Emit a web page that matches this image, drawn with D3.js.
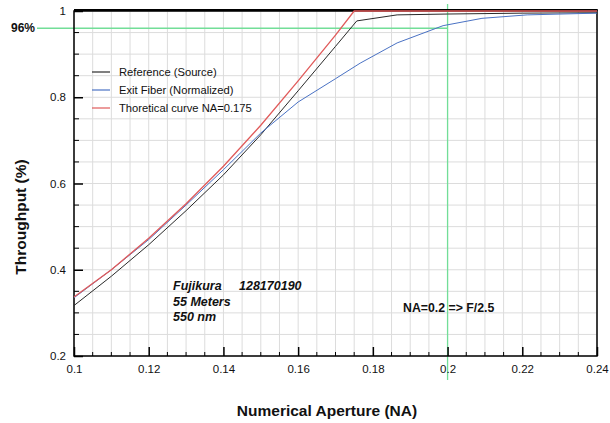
<!DOCTYPE html>
<html><head><meta charset="utf-8">
<script src="https://cdn.jsdelivr.net/npm/d3@7"></script>
<style>body{margin:0;background:#fff}svg{display:block}text{font-family:"Liberation Sans",Arial,Helvetica,sans-serif}</style>
</head><body><svg id="c" width="610" height="423"></svg>
<script>
const refNA  = [0.1, 0.11, 0.12, 0.13, 0.14, 0.15, 0.16, 0.17, 0.1757, 0.1865, 0.2, 0.22, 0.24];
const refVal = [0.317, 0.385, 0.458, 0.537, 0.62, 0.713, 0.815, 0.918, 0.977, 0.991, 0.993, 0.995, 0.996];
const exitNA  = [0.1, 0.11, 0.12, 0.13, 0.14, 0.15, 0.16, 0.17, 0.1766, 0.1865, 0.1988, 0.2092, 0.2213, 0.24];
const exitVal = [0.335, 0.40, 0.47, 0.55, 0.632, 0.717, 0.789, 0.843, 0.879, 0.926, 0.966, 0.983, 0.991, 0.995];
const theoNA  = [0.1, 0.11, 0.12, 0.13, 0.14, 0.15, 0.16, 0.17, 0.175, 0.24];
const theoVal = [0.337, 0.40, 0.473, 0.553, 0.64, 0.735, 0.838, 0.944, 1.0, 1.0];
const seriesNames = ["Reference (Source)", "Exit Fiber (Normalized)", "Thoretical curve NA=0.175"];
const seriesColors = ["#2a2a2a", "#4a72c4", "#e05a5a"];
const xTicks = [0.1, 0.12, 0.14, 0.16, 0.18, 0.2, 0.22, 0.24];
const xTickLabels = ["0.1", "0.12", "0.14", "0.16", "0.18", "0.2", "0.22", "0.24"];
const yTicks = [0.2, 0.4, 0.6, 0.8, 1];
const yTickLabels = ["0.2", "0.4", "0.6", "0.8", "1"];
const markerVal = 0.96, markerNA = 0.2;

const svg = d3.select("#c");
const L = 74, R = 597, T = 11, B = 356;
const x = d3.scaleLinear().domain([0.1, 0.24]).range([L, R]);
const y = d3.scaleLinear().domain([0.2, 1]).range([B, T]);

// grid
const xMinor = d3.range(0, 29).map(i => 0.1 + i * 0.005);
const yMinor = d3.range(0, 17).map(i => 0.2 + i * 0.05);
const g = svg.append("g");
g.selectAll(".vx").data(xMinor).join("line").attr("x1", d => x(d)).attr("x2", d => x(d))
  .attr("y1", T).attr("y2", B).attr("stroke", "#dcdcdc").attr("stroke-width", 1);
g.selectAll(".hy").data(yMinor).join("line").attr("x1", L).attr("x2", R)
  .attr("y1", d => y(d)).attr("y2", d => y(d)).attr("stroke", "#dcdcdc").attr("stroke-width", 1);

// green marker lines
svg.append("line").attr("x1", 37).attr("x2", x(markerNA)).attr("y1", y(markerVal)).attr("y2", y(markerVal))
  .attr("stroke", "#72de98").attr("stroke-width", 1.3);
svg.append("line").attr("x1", x(markerNA)).attr("x2", x(markerNA)).attr("y1", 4).attr("y2", 380)
  .attr("stroke", "#72de98").attr("stroke-width", 1.3);

// frame
svg.append("rect").attr("x", L).attr("y", T).attr("width", R - L).attr("height", B - T)
  .attr("fill", "none").attr("stroke", "#000").attr("stroke-width", 1.5);
svg.append("line").attr("x1", L).attr("x2", R + 0.75).attr("y1", T - 1).attr("y2", T - 1).attr("stroke", "#000").attr("stroke-width", 2);

// series
const line = d3.line().x(d => x(d[0])).y(d => y(d[1]));
const data = [
  d3.zip(refNA, refVal),
  d3.zip(exitNA, exitVal),
  d3.zip(theoNA, theoVal)
];
[0, 1, 2].forEach(i => {
  svg.append("path").datum(data[i]).attr("d", line).attr("fill", "none")
    .attr("stroke", seriesColors[i]).attr("stroke-width", i === 2 ? 1.3 : 1);
});

// axes with inward ticks
const xAxis = d3.axisBottom(x).tickValues(xTicks).tickSize(-9).tickPadding(9)
  .tickFormat((d, i) => xTickLabels[i]);
const xa = svg.append("g").attr("transform", `translate(0,${B})`).call(xAxis);
const yAxis = d3.axisLeft(y).tickValues(yTicks).tickSize(-9).tickPadding(8)
  .tickFormat((d, i) => yTickLabels[i]);
const ya = svg.append("g").attr("transform", `translate(${L},0)`).call(yAxis);
[xa, ya].forEach(a => {
  a.select(".domain").remove();
  a.selectAll(".tick line").attr("stroke", "#000").attr("stroke-width", 1.5);
  a.selectAll("text").attr("font-size", 11.5).attr("fill", "#111")
    .style("font-family", '"Liberation Sans",Arial,sans-serif');
});
// minor ticks
svg.append("g").selectAll("line").data(xMinor.filter((d, i) => i % 4 !== 0)).join("line")
  .attr("x1", d => x(d)).attr("x2", d => x(d)).attr("y1", B).attr("y2", B - 4)
  .attr("stroke", "#000").attr("stroke-width", 1);
svg.append("g").selectAll("line").data(yMinor.filter((d, i) => i % 4 !== 0)).join("line")
  .attr("x1", L).attr("x2", L + 5).attr("y1", d => y(d)).attr("y2", d => y(d))
  .attr("stroke", "#000").attr("stroke-width", 1);

// 96% label
svg.append("text").attr("x", 11).attr("y", y(markerVal) + 4).attr("font-size", 12)
  .attr("font-weight", "bold").attr("fill", "#111").text("96%");

// axis titles
svg.append("text").attr("x", 327).attr("y", 416).attr("text-anchor", "middle")
  .attr("font-size", 15.5).attr("font-weight", "bold").attr("fill", "#111").text("Numerical Aperture (NA)");
svg.append("text").attr("transform", "translate(26,217) rotate(-90)").attr("text-anchor", "middle")
  .attr("font-size", 15.5).attr("font-weight", "bold").attr("fill", "#111").text("Throughput (%)");

// legend
const legY = [72, 90, 108];
seriesNames.forEach((n, i) => {
  const yy = legY[i];
  svg.append("line").attr("x1", 92).attr("x2", 110).attr("y1", yy).attr("y2", yy)
    .attr("stroke", seriesColors[i]).attr("stroke-width", 1.2);
  svg.append("text").attr("x", 119).attr("y", yy + 4).attr("font-size", 11.2).attr("fill", "#111").text(n);
});

// annotations
const ann = svg.append("g").attr("font-size", 12.5).attr("font-weight", "bold").attr("font-style", "italic").attr("fill", "#111");
ann.append("text").attr("x", 173).attr("y", 290).attr("xml:space", "preserve").text("Fujikura     128170190");
ann.append("text").attr("x", 173).attr("y", 306).text("55 Meters");
ann.append("text").attr("x", 173).attr("y", 321).text("550 nm");
svg.append("text").attr("x", 403).attr("y", 312).attr("font-size", 12.3).attr("font-weight", "bold")
  .attr("fill", "#111").text("NA=0.2 => F/2.5");
</script></body></html>
